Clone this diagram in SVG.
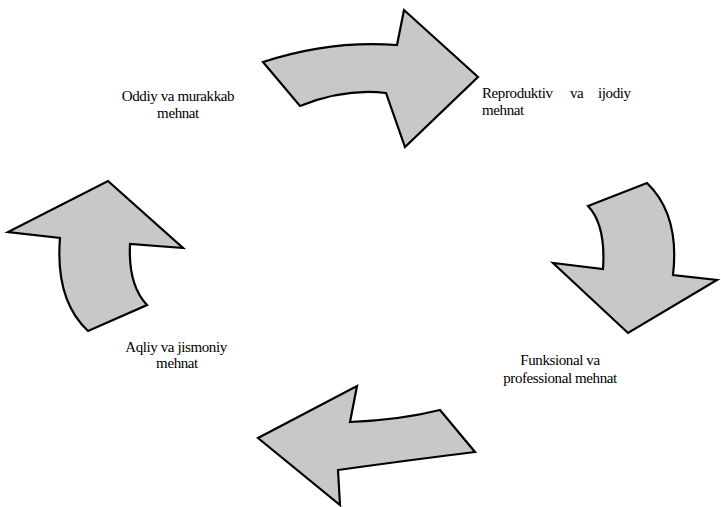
<svg xmlns="http://www.w3.org/2000/svg" width="721" height="507" viewBox="0 0 721 507">
<style>
.arrow{fill:#c8c8c8;stroke:#000;stroke-width:2.2;stroke-linejoin:miter}
</style>
<rect width="721" height="507" fill="#fff"/>
<g id="connectors">
<path class="arrow" d="M263,62 Q330,40 397,45 L404,10 L478,77 L405,147 L386,93 Q345,88 300,106 Z"/>
<path class="arrow" d="M588,206 L647,183 Q680,215 673,275 L717,280 L628,333 L553,263 L603,269 Q606,225 588,206 Z"/>
<path class="arrow" d="M258,438 L357,386 L350,422 Q400,420 440,410 L475,452 Q410,460 338,470 L340,505 Z"/>
<path class="arrow" d="M108,181 L183,248 L130,244 Q128,285 147,305 L88,331 Q55,300 60,238 L8,232 Z"/>
</g>
<g font-family="Liberation Serif, DejaVu Serif, serif" font-size="15" fill="#000" letter-spacing="-0.4">
<g id="node-oddiy">
<text x="178" y="101" text-anchor="middle">Oddiy va murakkab</text>
<text x="178" y="118" text-anchor="middle">mehnat</text>
</g>
<g id="node-reproduktiv">
<text x="482" y="98">Reproduktiv</text>
<text x="570" y="98">va</text>
<text x="598" y="98">ijodiy</text>
<text x="482" y="115">mehnat</text>
</g>
<g id="node-funksional">
<text x="560" y="365" text-anchor="middle">Funksional va</text>
<text x="560" y="383" text-anchor="middle">professional mehnat</text>
</g>
<g id="node-aqliy">
<text x="176" y="352" text-anchor="middle">Aqliy va jismoniy</text>
<text x="177" y="368" text-anchor="middle">mehnat</text>
</g>
</g>
</svg>
